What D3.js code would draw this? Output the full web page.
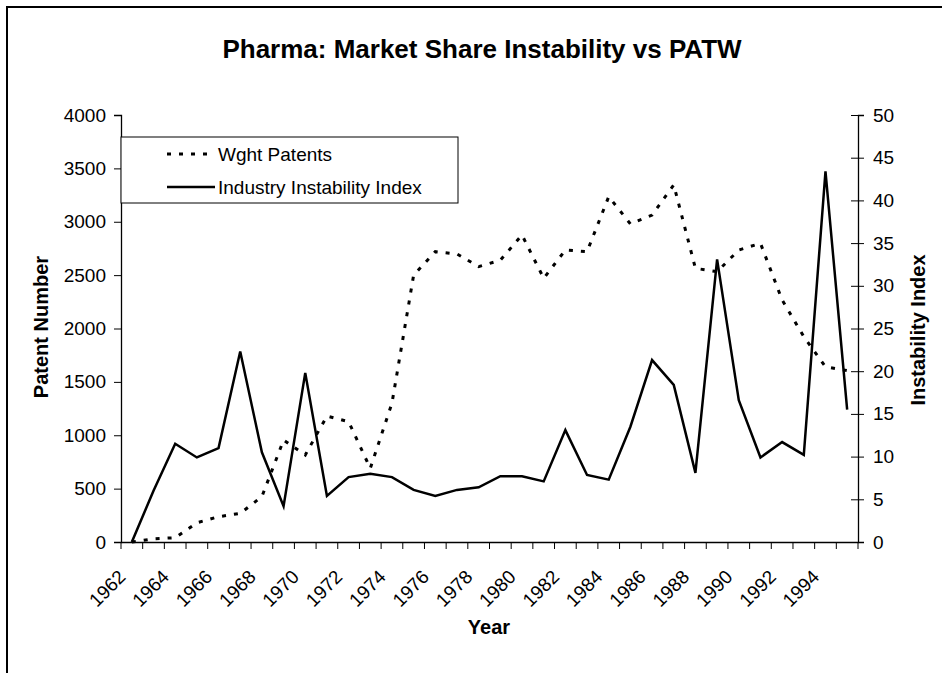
<!DOCTYPE html>
<html><head><meta charset="utf-8">
<script src="https://cdn.jsdelivr.net/npm/d3@7"></script>
<style>body{margin:0;background:#fff}svg{display:block;font-family:"Liberation Sans",Arial,sans-serif}</style>
</head><body><svg id="c" width="942" height="673"></svg>
<script>
const years = d3.range(1962, 1996).map(String);
const tickLabels = ["1962","1964","1966","1968","1970","1972","1974","1976","1978","1980","1982","1984","1986","1988","1990","1992","1994"];
const patents = [0,30,40,180,237,268,425,955,815,1180,1127,690,1300,2500,2720,2698,2580,2640,2876,2470,2735,2720,3235,2980,3063,3345,2564,2532,2735,2798,2267,1923,1642,1605];
const instability = [0,6,11.5,9.9,11,22.3,10.5,4.2,19.8,5.4,7.6,8,7.6,6.1,5.4,6.1,6.4,7.7,7.7,7.1,13.1,7.85,7.3,13.5,21.3,18.4,8.1,33.1,16.6,9.9,11.7,10.2,43.4,15.5];
const leftTicks = d3.range(0, 4001, 500);
const rightTicks = d3.range(0, 51, 5);

const svg = d3.select("#c");
const L = 121, R = 858, T = 115, B = 542;
const x = d3.scaleBand().domain(years).range([L, R]);
const yL = d3.scaleLinear().domain([0, 4000]).range([B, T]);
const yR = d3.scaleLinear().domain([0, 50]).range([B, T]);
const cx = d => x(d) + x.bandwidth() / 2;
const FS = 19;

// outer border
svg.append("rect").attr("x", 7).attr("y", 7).attr("width", 960).attr("height", 700)
  .attr("fill", "none").attr("stroke", "#000").attr("stroke-width", 2);

svg.append("text").attr("x", 482).attr("y", 58).attr("text-anchor", "middle")
  .attr("font-size", 26).attr("font-weight", "bold").text("Pharma: Market Share Instability vs PATW");

// left axis
const gl = svg.append("g").attr("transform", `translate(${L},0)`)
  .call(d3.axisLeft(yL).tickValues(leftTicks).tickSize(7).tickPadding(8).tickFormat(d3.format("d")));
// right axis
const gr = svg.append("g").attr("transform", `translate(${R},0)`)
  .call(d3.axisRight(yR).tickValues(rightTicks).tickSize(6).tickPadding(9).tickFormat(d3.format("d")));
gr.selectAll(".tick line").attr("x1", -7);
// bottom axis
const gb = svg.append("g").attr("transform", `translate(0,${B})`)
  .call(d3.axisBottom(x).tickValues([]).tickSize(0));
const tickPos = d3.range(0, years.length + 1).map(i => L + i * x.step());
gb.selectAll("line.tk").data(tickPos).enter().append("line").attr("class", "tk")
  .attr("x1", d => d).attr("x2", d => d).attr("y1", 0).attr("y2", 7).attr("stroke", "#000");
gb.selectAll("text.lab").data(tickLabels).enter().append("text").attr("class", "lab")
  .attr("transform", d => `translate(${cx(d) - 5},${36}) rotate(-45)`)
  .attr("text-anchor", "end").attr("font-size", FS).attr("fill", "#000").text(d => d);

[gl, gr, gb].forEach(g => {
  g.selectAll(".domain").attr("stroke", "#000").attr("stroke-width", 1.3);
  g.selectAll(".tick line").attr("stroke", "#000");
  g.selectAll(".tick text").attr("font-size", FS).attr("fill", "#000").attr("font-family", "Liberation Sans, Arial, sans-serif");
});

// axis titles
svg.append("text").attr("transform", "translate(48,327) rotate(-90)").attr("text-anchor", "middle")
  .attr("font-size", 20).attr("font-weight", "bold").text("Patent Number");
svg.append("text").attr("transform", "translate(925,330) rotate(-90)").attr("text-anchor", "middle")
  .attr("font-size", 20).attr("font-weight", "bold").text("Instability Index");
svg.append("text").attr("x", 489).attr("y", 634).attr("text-anchor", "middle")
  .attr("font-size", 20).attr("font-weight", "bold").text("Year");

// lines
svg.append("path").datum(patents).attr("fill", "none").attr("stroke", "#000")
  .attr("stroke-width", 3).attr("stroke-dasharray", "4,8")
  .attr("d", d3.line().x((d, i) => cx(years[i])).y(d => yL(d)));
svg.append("path").datum(instability).attr("fill", "none").attr("stroke", "#000")
  .attr("stroke-width", 2.5).attr("stroke-linejoin", "miter")
  .attr("d", d3.line().x((d, i) => cx(years[i])).y(d => yR(d)));

// legend
const lg = svg.append("g");
lg.append("rect").attr("x", 121).attr("y", 137).attr("width", 337).attr("height", 66)
  .attr("fill", "#fff").attr("stroke", "#000").attr("stroke-width", 1);
const items = [{name: "Wght Patents", dash: "4,8", w: 3}, {name: "Industry Instability Index", dash: null, w: 2.5}];
items.forEach((it, i) => {
  const yy = 154 + i * 33;
  lg.append("line").attr("x1", 167).attr("x2", 215).attr("y1", yy).attr("y2", yy)
    .attr("stroke", "#000").attr("stroke-width", it.w).attr("stroke-dasharray", it.dash);
  lg.append("text").attr("x", 218).attr("y", yy).attr("dy", "0.35em").attr("font-size", FS).text(it.name);
});
</script></body></html>
